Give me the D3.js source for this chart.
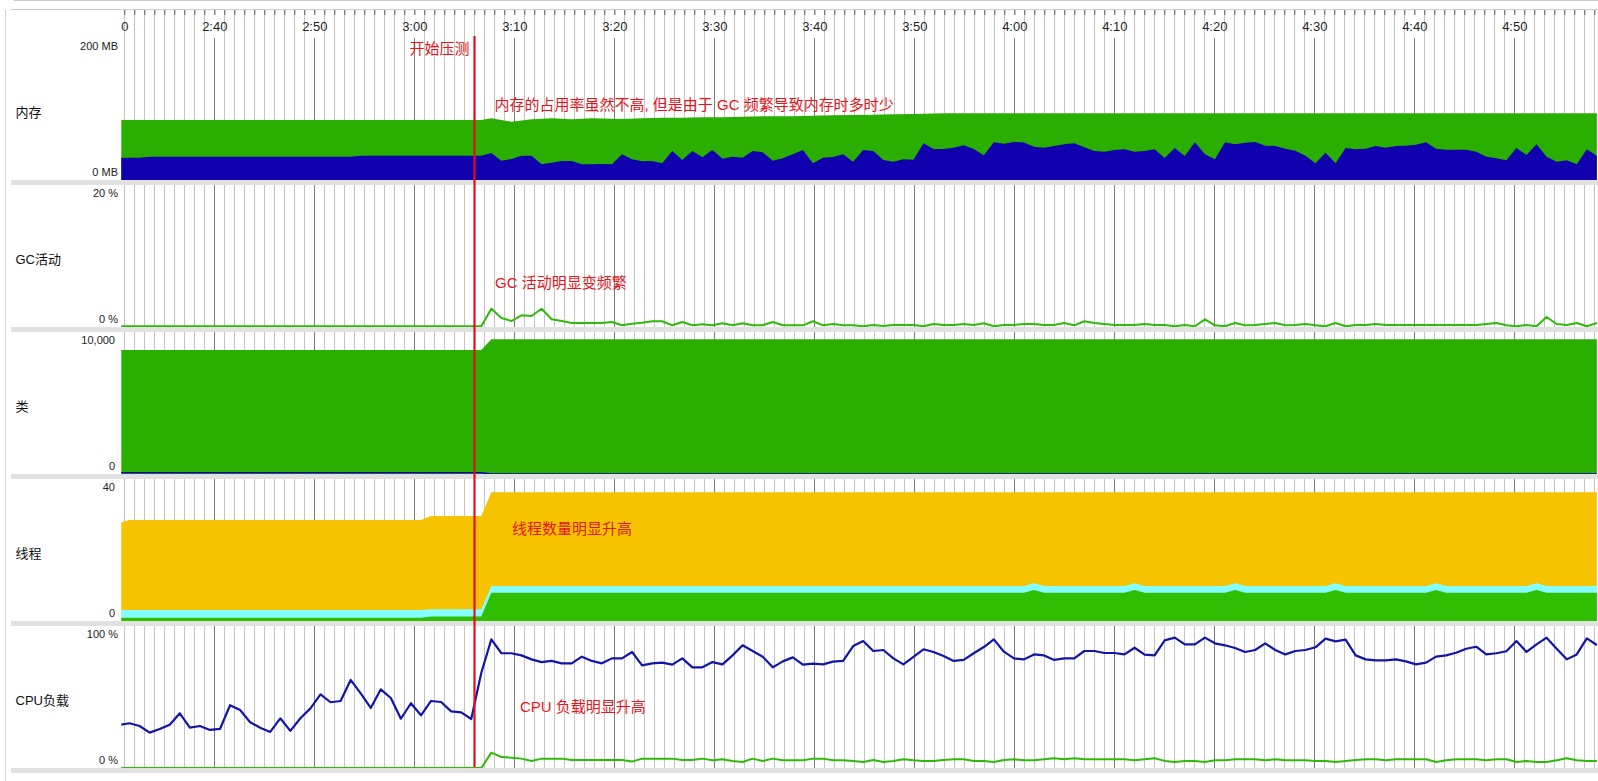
<!DOCTYPE html>
<html>
<head>
<meta charset="utf-8">
<script src="https://cdn.jsdelivr.net/npm/d3@7"></script>
<style>
  html, body { margin: 0; padding: 0; background: #fff; }
  svg { display: block; }
  text { font-family: "Liberation Sans", Arial, "Noto Sans CJK SC", sans-serif; }
</style>
</head>
<body>
<svg id="chart" width="1598" height="781"></svg>
<script>
// ---------------- DATA ----------------
// samples: one per ~1.005 s, starting at 2:30.52 (seconds from 0:00)
const sampleStart = 150.52;
const sampleStep = 1.005;

// time axis
const tickStart = 151, tickEnd = 298;
const labelTimes = [151, 160, 170, 180, 190, 200, 210, 220, 230, 240, 250, 260, 270, 280, 290];
const labelTexts = ["0", "2:40", "2:50", "3:00", "3:10", "3:20", "3:30", "3:40", "3:50", "4:00", "4:10", "4:20", "4:30", "4:40", "4:50"];

// panels
const panelNames = ["内存", "GC活动", "类", "线程", "CPU负载"];
const panelMax = [200, 20, 10000, 40, 100];
const panelTopLabels = ["200 MB", "20 %", "10,000", "40", "100 %"];
const panelZeroLabels = ["0 MB", "0 %", "0", "0", "0 %"];

// memory (MB)
const memoryUsed = [
  31.4, 31.4, 31.4,
  32.8, 32.8, 32.8, 32.8, 32.8, 32.8, 32.8, 32.8, 32.8, 32.8,
  32.8, 32.8, 32.8, 32.8, 32.8, 32.8, 32.8, 32.8, 32.8, 32.8, 32.8,
  34.2, 34.2, 34.2, 34.2, 34.2, 34.2, 34.2, 34.2, 34.2, 34.2, 34.2, 34.2, 34.2,
  38.0, 27.2, 29.6, 34.2, 34.2, 22.1, 24.4, 26.8, 26.8, 22.1,
  22.1, 22.5, 22.1, 36.2, 29.2, 26.3, 26.8, 23.5, 40.8, 28.2,
  40.8, 32.0, 42.3, 30.0, 32.8, 31.4, 40.8, 39.0, 27.2, 30.6,
  36.2, 42.3, 23.5, 31.4, 32.4, 36.2, 25.8, 42.3, 40.8, 28.2,
  25.8, 29.2, 28.6, 51.7, 43.7, 43.7, 45.5, 48.9, 43.7, 34.8,
  53.1, 51.1, 53.5, 52.8, 46.9, 45.5, 47.9, 50.3, 51.7, 46.1,
  40.8, 39.9, 42.3, 43.2, 39.9, 40.8, 43.2, 31.0, 45.1, 33.8,
  53.1, 36.2, 29.2, 53.1, 50.3, 52.5, 53.5, 48.3, 47.9, 44.1,
  41.3, 34.2, 23.5, 38.5, 23.5, 45.1, 43.2, 44.1, 47.9, 45.5,
  47.9, 48.3, 49.7, 53.1, 44.1, 42.7, 42.7, 42.7, 39.9, 32.8,
  30.6, 27.7, 45.1, 35.2, 50.3, 32.8, 25.8, 27.7, 22.1, 43.2, 34.2
];
// committed memory: [sample index, MB]
const memoryCommitted = [
  [0, 84.5], [36, 84.5], [37, 86.9], [39, 82.1], [41, 85.5], [43, 86.9], [45, 85.5],
  [47, 86.9], [50, 85.9], [52, 86.9], [54, 87.8], [56, 87.8], [58, 88.3], [60, 88.3],
  [62, 89.2], [64, 89.7], [67, 89.7], [69, 90.6], [71, 91.1], [73, 91.5], [75, 92.0],
  [77, 92.5], [79, 93.0], [82, 93.9], [147, 93.9]
];

// GC activity (%)
const gcActivity = [
  0, 0, 0, 0, 0, 0, 0, 0, 0, 0,
  0, 0, 0, 0, 0, 0, 0, 0, 0, 0,
  0, 0, 0, 0, 0, 0, 0, 0, 0, 0,
  0, 0, 0, 0, 0, 0, 0,
  2.49, 1.17, 0.75, 1.55, 1.46, 2.49, 0.99, 0.75, 0.47, 0.47,
  0.47, 0.47, 0.61, 0.14, 0.37, 0.51, 0.71, 0.71, 0.14, 0.61,
  0.14, 0.28, 0.14, 0.42, 0.14, 0.42, 0.14, 0.14, 0.61, 0.14,
  0.14, 0.14, 0.71, 0.14, 0.33, 0.14, 0.14, 0, 0.19, 0.05,
  0.19, 0.19, 0.19, 0, 0.33, 0.19, 0.19, 0.33, 0.19, 0.42,
  0, 0.19, 0.19, 0.33, 0.33, 0.19, 0.19, 0.47, 0.14, 0.71,
  0.47, 0.33, 0.19, 0.19, 0.19, 0.33, 0.19, 0.19, 0, 0.19,
  0, 0.99, 0.14, 0, 0.47, 0.14, 0.19, 0.33, 0.47, 0.14,
  0.19, 0.33, 0.14, 0, 0.47, 0, 0.19, 0.19, 0.33, 0.19,
  0.19, 0.19, 0.19, 0.19, 0.19, 0.19, 0.19, 0.19, 0.19, 0.33,
  0.47, 0.14, 0, 0.19, 0, 1.32, 0.33, 0.19, 0.47, 0, 0.47
];

// classes: [sample index, count]
const classesLoaded = [[0, 8730], [36, 8730], [37, 9485], [147, 9485]];
const classesUnloaded = [[0, 90], [36, 90], [37, 0], [147, 0]];

// threads: [sample index, count]
const threadsLive = [[0, 27.7], [1, 28.45], [30, 28.45], [31, 29.6], [36, 29.6], [37, 36.3], [147, 36.3]];
const threadsDaemon = [
  [0, 3.1], [30, 3.1], [31, 3.3], [36, 3.3], [37, 9.86],
  [90, 9.86], [91, 10.6], [92, 9.86], [100, 9.86], [101, 10.6], [102, 9.86],
  [110, 9.86], [111, 10.6], [112, 9.86], [120, 9.86], [121, 10.6], [122, 9.86],
  [130, 9.86], [131, 10.6], [132, 9.86], [140, 9.86], [141, 10.6], [142, 9.86], [147, 9.86]
];
const threadsPeer = [
  [0, 0.93], [30, 0.93], [31, 1.3], [36, 1.3], [37, 7.97],
  [90, 7.97], [91, 8.73], [92, 7.97], [100, 7.97], [101, 8.73], [102, 7.97],
  [110, 7.97], [111, 8.73], [112, 7.97], [120, 7.97], [121, 8.73], [122, 7.97],
  [130, 7.97], [131, 8.73], [132, 7.97], [140, 7.97], [141, 8.73], [142, 7.97], [147, 7.97]
];

// CPU load (%)
const cpuMachine = [
  30.3, 31.5, 29.6, 24.9, 27.5, 30.5, 38.5, 28.4, 29.6, 26.8,
  27.5, 44.2, 40.8, 32.2, 28.4, 25.4, 35.0, 26.1, 35.0, 42.0,
  51.9, 46.3, 47.2, 62.0, 52.6, 42.3, 55.4, 49.3, 34.7, 45.6,
  37.1, 47.2, 46.5, 39.9, 39.2, 34.5, 67.1, 90.6, 80.8, 80.8,
  79.3, 76.5, 74.6, 75.4, 73.7, 73.7, 78.4, 75.4, 73.7, 77.2,
  77.2, 81.7, 72.3, 73.7, 74.2, 72.8, 77.2, 70.9, 70.9, 74.6,
  73.0, 79.3, 86.4, 82.4, 78.4, 70.9, 75.1, 77.9, 72.8, 73.5,
  73.0, 74.9, 75.4, 85.9, 89.4, 82.4, 83.1, 77.2, 73.0, 78.2,
  83.6, 81.7, 78.9, 75.4, 76.1, 80.8, 85.2, 90.6, 81.9, 77.2,
  76.5, 80.0, 79.3, 76.1, 77.2, 77.2, 82.4, 82.4, 81.0, 81.0,
  80.0, 84.7, 79.8, 79.3, 89.9, 91.8, 87.1, 87.1, 91.8, 87.8,
  86.4, 84.5, 81.7, 83.1, 87.8, 83.1, 80.0, 82.4, 83.1, 85.0,
  91.1, 89.2, 90.4, 79.3, 76.5, 75.8, 75.8, 76.5, 75.1, 73.0,
  74.2, 78.4, 79.3, 81.2, 84.0, 85.4, 80.0, 80.8, 82.2, 89.4,
  81.7, 87.1, 91.8, 84.0, 76.5, 80.0, 91.3, 86.6
];
const cpuJvm = [
  0, 0, 0, 0, 0, 0, 0, 0, 0, 0,
  0, 0, 0, 0, 0, 0, 0, 0, 0, 0,
  0, 0, 0, 0, 0, 0, 0, 0, 0, 0,
  0, 0, 0, 0, 0, 0, 0,
  10.8, 7.7, 7.3, 6.6, 5.0,
  6.6, 6.6, 6.6, 5.6, 5.6, 5.6, 5.6, 5.6, 5.6, 4.5,
  6.6, 6.6, 6.6, 6.6, 5.6, 5.6, 6.6, 5.4, 6.1, 5.0,
  4.2, 6.6, 5.0, 6.6, 5.4, 5.4, 5.4, 6.6, 6.6, 5.4, 5.4,
  5.0, 4.2, 5.6, 4.2, 5.0, 6.1, 5.4, 5.0, 5.0, 5.6,
  6.1, 6.1, 5.0, 5.0, 4.2, 5.6, 6.1, 5.4, 5.4, 6.1,
  6.8, 6.1, 6.8, 6.1, 6.1, 6.1, 6.1, 6.1, 5.4, 6.1,
  6.8, 5.0, 4.2, 5.0, 5.0, 4.2, 5.4, 5.4,
  6.1, 6.1, 6.1, 5.4, 6.1, 5.4, 5.4, 5.4, 5.0, 5.0,
  4.2, 5.0, 5.6, 6.1, 6.1, 5.4, 6.1, 6.1, 6.1, 6.1,
  4.2, 5.4, 6.1, 6.1, 6.1, 5.4, 6.1, 6.1, 4.2, 5.0,
  4.2, 4.2, 5.4, 6.8, 5.4, 5.0, 5.0
];

// annotations
const loadTestStart = 186.02;
const annotationTexts = {
  start: "开始压测",
  memory: "内存的占用率虽然不高, 但是由于 GC 频繁导致内存时多时少",
  gc: "GC 活动明显变频繁",
  threads: "线程数量明显升高",
  cpu: "CPU 负载明显升高"
};

// ---------------- LAYOUT ----------------
const W = 1598, H = 781;
const plotLeft = 121.3, plotRight = 1598;
const panelLayout = [
  { top: 38, bottom: 180, zero: 180 },
  { top: 185, bottom: 327, zero: 326.3 },
  { top: 332, bottom: 474, zero: 474 },
  { top: 479, bottom: 621, zero: 621 },
  { top: 626, bottom: 768, zero: 768 }
];

const svg = d3.select("#chart");
const x = d3.scaleLinear().domain([tickStart, tickEnd]).range([124.3, 1594.3]);
const tOf = i => sampleStart + i * sampleStep;
const ys = panelLayout.map((p, i) => d3.scaleLinear().domain([0, panelMax[i]]).range([p.zero, p.top]));

const fromSeries = arr => arr.map((v, i) => ({ t: tOf(i), v }));
const fromPairs = arr => arr.map(([i, v]) => ({ t: tOf(i), v }));

// frame lines
svg.append("line").attr("x1", 14).attr("x2", W).attr("y1", 0.5).attr("y2", 0.5).attr("stroke", "#c9c9c9");
svg.append("line").attr("x1", 11).attr("x2", W).attr("y1", 9.5).attr("y2", 9.5).attr("stroke", "#c9c9c9");
svg.append("line").attr("x1", 5.5).attr("x2", 5.5).attr("y1", 9.5).attr("y2", H).attr("stroke", "#d6d6d6");

// gridlines
const allTicks = d3.range(tickStart, tickEnd + 1);
const majorSet = new Set(labelTimes.filter(t => t !== 151));
const grid = svg.append("g");
grid.selectAll("line.minor").data(allTicks.filter(t => !majorSet.has(t))).join("line")
  .attr("class", "minor")
  .attr("x1", d => Math.round(x(d)) + 0.5).attr("x2", d => Math.round(x(d)) + 0.5)
  .attr("y1", 15).attr("y2", 768).attr("stroke", "#c3c3c3").attr("stroke-width", 1);
grid.selectAll("line.major").data([...majorSet]).join("line")
  .attr("class", "major")
  .attr("x1", d => Math.round(x(d)) + 0.5).attr("x2", d => Math.round(x(d)) + 0.5)
  .attr("y1", 38).attr("y2", 768).attr("stroke", "#7c7c7c").attr("stroke-width", 1);

// top axis ticks
const labelMap = new Map(labelTimes.map((t, i) => [t, labelTexts[i]]));
const axis = d3.axisTop(x).tickValues(allTicks).tickSize(5).tickSizeOuter(0)
  .tickFormat(d => labelMap.get(d) || "");
const axisG = svg.append("g").attr("transform", "translate(0,15)").call(axis);
axisG.select(".domain").remove();
axisG.selectAll(".tick line").attr("stroke", "#4a4a4a");
axisG.selectAll(".tick text")
  .attr("y", 11).attr("dy", "0.36em")
  .attr("fill", "#1e1e1e").attr("font-size", 13)
  .attr("font-family", "'Liberation Sans', Arial, sans-serif");

// clip paths
const defs = svg.append("defs");
panelLayout.forEach((p, i) => {
  defs.append("clipPath").attr("id", "clip" + i)
    .append("rect").attr("x", plotLeft).attr("y", p.top)
    .attr("width", plotRight - plotLeft).attr("height", p.bottom - p.top);
});
const panelG = panelLayout.map((p, i) => svg.append("g").attr("clip-path", `url(#clip${i})`));

function area(i) {
  return d3.area().x(d => x(d.t)).y0(ys[i](0)).y1(d => ys[i](d.v));
}
function line(i) {
  return d3.line().x(d => x(d.t)).y(d => ys[i](d.v));
}

// memory
panelG[0].append("path").datum(fromPairs(memoryCommitted)).attr("d", area(0)).attr("fill", "#2aae00");
panelG[0].append("path").datum(fromSeries(memoryUsed)).attr("d", area(0)).attr("fill", "#1000ad");

// GC
panelG[1].append("path").datum(fromSeries(gcActivity)).attr("d", line(1))
  .attr("fill", "none").attr("stroke", "#2fba0a").attr("stroke-width", 2).attr("stroke-linejoin", "round");

// classes
panelG[2].append("path").datum(fromPairs(classesLoaded)).attr("d", area(2)).attr("fill", "#2aae00");
panelG[2].append("path").datum(fromPairs(classesUnloaded)).attr("d", line(2))
  .attr("fill", "none").attr("stroke", "#1000ad").attr("stroke-width", 1.6);

// threads
panelG[3].append("path").datum(fromPairs(threadsLive)).attr("d", area(3)).attr("fill", "#f7c200");
panelG[3].append("path").datum(fromPairs(threadsDaemon)).attr("d", area(3)).attr("fill", "#85ffff");
panelG[3].append("path").datum(fromPairs(threadsPeer)).attr("d", area(3)).attr("fill", "#30bf00");

// CPU
panelG[4].append("path").datum(fromSeries(cpuJvm)).attr("d", line(4))
  .attr("fill", "none").attr("stroke", "#2fba0a").attr("stroke-width", 2).attr("stroke-linejoin", "round");
panelG[4].append("path").datum(fromSeries(cpuMachine)).attr("d", line(4))
  .attr("fill", "none").attr("stroke", "#1414a8").attr("stroke-width", 2.2).attr("stroke-linejoin", "round");

// separators
svg.selectAll("rect.sep").data(panelLayout).join("rect")
  .attr("class", "sep").attr("x", 11).attr("y", d => d.bottom)
  .attr("width", W - 11).attr("height", 5).attr("fill", "#e1e1e1");

// panel value labels and names
panelLayout.forEach((p, i) => {
  const withUnit = /[%B]$/.test(panelTopLabels[i]);
  const lx = withUnit ? 118 : 115;
  svg.append("text").attr("x", lx).attr("y", p.top + 8.5).attr("dy", "0.35em")
    .attr("text-anchor", "end").attr("font-size", 11).attr("fill", "#222").text(panelTopLabels[i]);
  svg.append("text").attr("x", lx).attr("y", p.bottom - 7.5).attr("dy", "0.35em")
    .attr("text-anchor", "end").attr("font-size", 11).attr("fill", "#222").text(panelZeroLabels[i]);
  svg.append("text").attr("x", 15.5).attr("y", (p.top + p.bottom) / 2 + 3.5).attr("dy", "0.35em")
    .attr("font-size", 13).attr("fill", "#111").text(panelNames[i]);
});

// annotations
const red = "#e0101e";
svg.append("line").attr("x1", x(loadTestStart)).attr("x2", x(loadTestStart))
  .attr("y1", 36).attr("y2", 767).attr("stroke", red).attr("stroke-width", 2.2);
const ann = (txt, px, py, anchor) => svg.append("text").attr("x", px).attr("y", py).attr("dy", "0.36em")
  .attr("text-anchor", anchor || "start").attr("font-size", 15).attr("fill", "#e3161e").text(txt);
ann(annotationTexts.start, 469.5, 48.8, "end");
ann(annotationTexts.memory, 494.5, 104.2);
ann(annotationTexts.gc, 495, 282.5);
ann(annotationTexts.threads, 512, 528.3);
ann(annotationTexts.cpu, 520, 706.7);
</script>
</body>
</html>
